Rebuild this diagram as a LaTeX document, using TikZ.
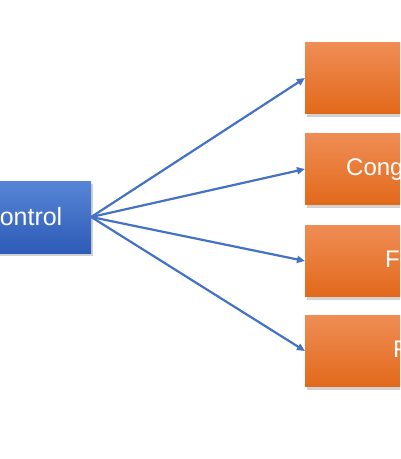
\documentclass[tikz,border=0pt]{standalone}
\usepackage{fontspec}
\setmainfont{Liberation Sans}
\usepackage{xcolor}
\usetikzlibrary{arrows.meta,positioning,shadows}
\definecolor{lineblue}{HTML}{4472C4}
\definecolor{boxblueT}{HTML}{5785D6}
\definecolor{boxblueB}{HTML}{2D5BB6}
\definecolor{boxorT}{HTML}{EF8D55}
\definecolor{boxorM}{HTML}{F47D2B}
\definecolor{boxorB}{HTML}{E2691B}

\begin{document}
\begin{tikzpicture}[x=1pt,y=-1pt,
  shadowed/.style={drop shadow={shadow xshift=2pt,shadow yshift=-3pt,opacity=0.25,fill=black!70}},
  ctrlbox/.style={shadowed,top color=boxblueT,bottom color=boxblueB,minimum width=138pt,minimum height=72pt,inner sep=0pt,text=white,font=\fontsize{25}{30}\selectfont},
  outbox/.style={shadowed,top color=boxorT,middle color=boxorM,bottom color=boxorB,minimum width=200pt,minimum height=71pt,inner sep=0pt,anchor=west},
  outtext/.style={text=white,anchor=west,inner sep=0pt,text height=17pt,text depth=5pt,font=\fontsize{24}{29}\selectfont},
  link/.style={lineblue,line width=2.2pt,-{Triangle[length=8pt,width=7pt]}}]
  \useasboundingbox (0,0) rectangle (400,459);
  \clip (0,0) rectangle (400,459);
  \node[ctrlbox] (ctrl) at (22,217) {Control};
  \node[outbox] (out1) at (305,78) {};
  \node[outbox] (out2) at (305,169) {};
  \node[outbox] (out3) at (305,261) {};
  \node[outbox] (out4) at (305,351) {};
  \node[outtext,xshift=41pt] (t2) at (out2.west) {Cong};
  \node[outtext,xshift=80pt] (t3) at (out3.west) {F};
  \node[outtext,xshift=88pt] (t4) at (out4.west) {F};
  \foreach \i in {1,...,4}{\draw[link] (ctrl.east) -- (out\i.west);}
\end{tikzpicture}
\end{document}
